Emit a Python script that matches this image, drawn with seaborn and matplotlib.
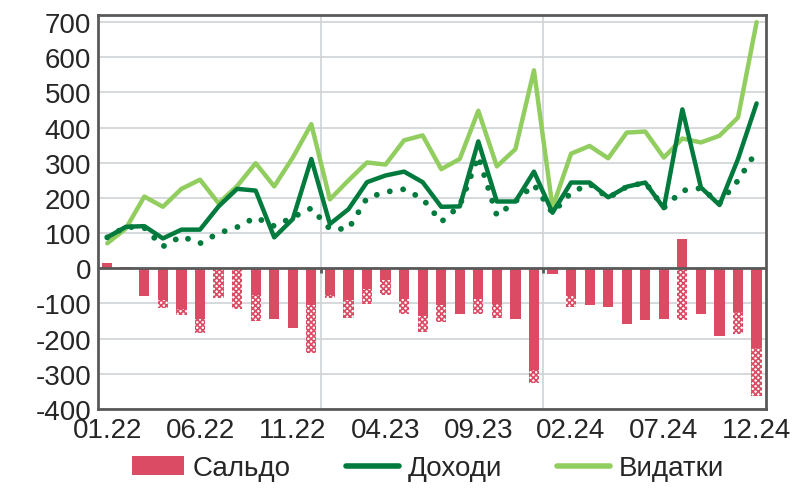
import numpy as np
import pandas as pd
import matplotlib
matplotlib.use("Agg")
import matplotlib.pyplot as plt
import seaborn as sns
from matplotlib.patches import Patch
from matplotlib.lines import Line2D

# monthly budget data, 01.22 - 12.24
months = [f"{m:02d}.{y}" for y in (22, 23, 24) for m in range(1, 13)]

income = [88, 118, 120, 85, 110, 110, 176, 226, 221, 88, 140, 311,
          126, 168, 245, 264, 275, 245, 175, 176, 361, 190, 190, 275,
          158, 244, 244, 202, 232, 244, 171, 452, 230, 180, 311, 469]
spending = [71, 113, 204, 175, 226, 252, 185, 234, 299, 233, 315, 410,
            196, 250, 301, 295, 364, 378, 282, 311, 448, 290, 339, 563,
            173, 326, 348, 313, 386, 389, 315, 369, 358, 377, 429, 700]
income_dotted = [88, 118, 115, 62, 91, 71, 100, 117, 145, 120, 145, 171,
                 112, 112, 200, 217, 225, 198, 132, 178, 318, 150, 190, 238,
                 157, 215, 240, 200, 232, 244, 172, 221, 228, 185, 250, 333]
balance = [14, 5, -79, -91, -117, -145, -3, -3, -75, -145, -171, -103,
           -77, -89, -58, -32, -86, -136, -105, -129, -86, -101, -144, -290,
           -15, -79, -103, -110, -157, -146, -144, 82, -129, -193, -125, -227]
balance_hatched = [14, 5, -79, -113, -134, -183, -84, -117, -150, -145, -171, -240,
                   -85, -140, -102, -77, -131, -180, -153, -129, -131, -141, -144, -325,
                   -15, -110, -103, -110, -157, -146, -144, -146, -129, -193, -188, -364]

df = pd.DataFrame({"idx": np.arange(len(months)), "month": months,
                   "income": income, "spending": spending, "dotted": income_dotted,
                   "balance": balance, "hatched": balance_hatched})

RED = "#DC4B64"
DARK = "#007A3D"
LIGHT = "#92CD60"
GRID = "#D0D3D6"
AXC = "#595959"

sns.set_style("white")
plt.rcParams["font.family"] = ["Liberation Sans", "DejaVu Sans"]
plt.rcParams["axes.unicode_minus"] = False
plt.rcParams["hatch.linewidth"] = 1.2

fig = plt.figure(figsize=(7.92, 4.89), dpi=100)
ax = fig.add_axes([0.1237, 0.1616, 0.967 - 0.1237, 0.967 - 0.1616])

ax.set_axisbelow(True)
for v in range(-400, 701, 100):
    ax.axhline(v, color=GRID, lw=1.2, zorder=0)
for b in (11.5, 23.5):
    ax.axvline(b, color=GRID, lw=1.2, zorder=0)

# hatched bars behind, solid saldo in front
sns.barplot(data=df, x="idx", y="hatched", native_scale=True, color="white",
            edgecolor=RED, hatch="xxxxxx", linewidth=0, width=0.55, ax=ax, zorder=2)
sns.barplot(data=df, x="idx", y="balance", native_scale=True, color=RED,
            saturation=1, linewidth=0, width=0.55, ax=ax, zorder=3)

sns.lineplot(data=df, x="idx", y="spending", color=LIGHT, lw=3.2, ax=ax, zorder=4)
sns.lineplot(data=df, x="idx", y="dotted", color=DARK, lw=4.2, ax=ax, zorder=5)
ax.lines[-1].set_dashes([0.01, 2.3])
ax.lines[-1].set_dash_capstyle("round")
sns.lineplot(data=df, x="idx", y="income", color=DARK, lw=3.2, ax=ax, zorder=6)

ax.axhline(0, color=AXC, lw=2, zorder=7)
ax.vlines([11.5, 23.5], -14, 0, color=AXC, lw=2, zorder=7)

ax.set_xlim(-0.5, len(months) - 0.5)
ax.set_ylim(-400, 720)
ax.set_yticks(range(-400, 701, 100))
ax.set_xticks(df["idx"][::5])
ax.set_xticklabels(df["month"][::5])
ax.set_xlabel("")
ax.set_ylabel("")
ax.tick_params(axis="y", direction="in", length=6, width=2, color=AXC,
               labelsize=20, pad=5)
ax.tick_params(axis="x", length=0, labelsize=20, pad=6)
for s in ax.spines.values():
    s.set_color(AXC)
    s.set_linewidth(2)

handles = [Patch(facecolor=RED, edgecolor="none"),
           Line2D([], [], color=DARK, lw=4),
           Line2D([], [], color=LIGHT, lw=4)]
fig.legend(handles, ["Сальдо", "Доходи", "Видатки"], loc="center",
           bbox_to_anchor=(0.54, 0.04), ncol=3, frameon=False, fontsize=20,
           handlelength=1.9, handletextpad=0.3, columnspacing=2.0)

fig.savefig("out.png", dpi=100)
